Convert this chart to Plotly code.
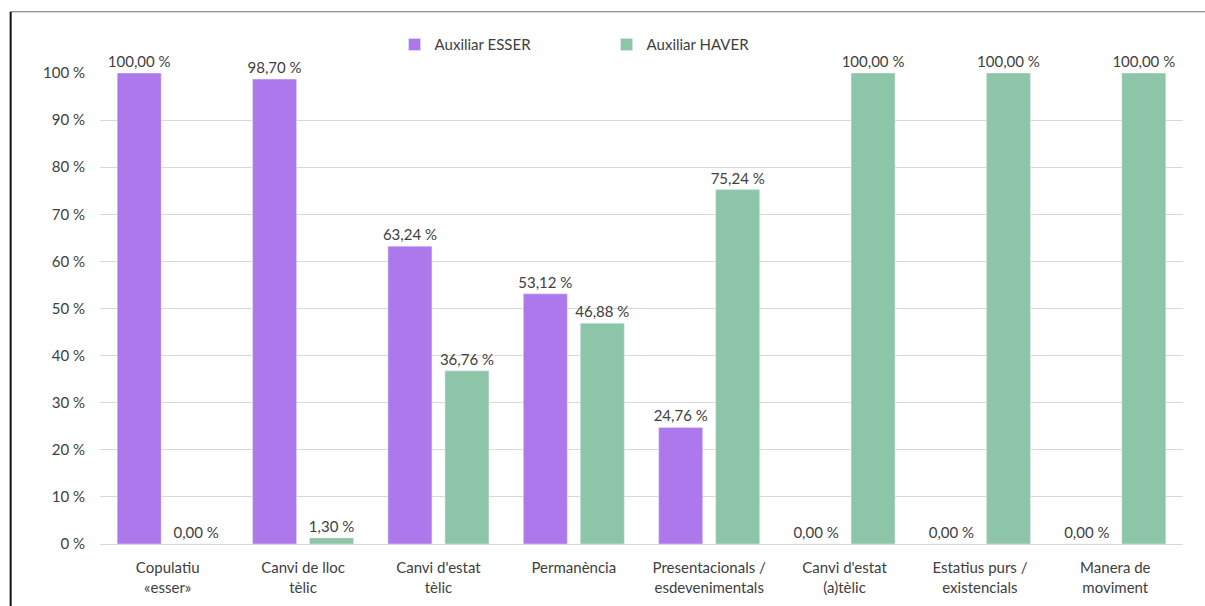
import plotly.graph_objects as go

categories = ["Copulatiu<br>«esser»", "Canvi de lloc<br>tèlic", "Canvi d'estat<br>tèlic", "Permanència",
              "Presentacionals /<br>esdevenimentals", "Canvi d'estat<br>(a)tèlic",
              "Estatius purs /<br>existencials", "Manera de<br>moviment"]
esser = [100.00, 98.70, 63.24, 53.12, 24.76, 0.00, 0.00, 0.00]
haver = [0.00, 1.30, 36.76, 46.88, 75.24, 100.00, 100.00, 100.00]
yticks = [0, 10, 20, 30, 40, 50, 60, 70, 80, 90, 100]

def fmt(v):
    return f"{v:.2f}".replace(".", ",") + " %"

FONT = "Lato, 'Open Sans', sans-serif"
TXT = "#404040"

fig = go.Figure()
fig.add_trace(go.Bar(name="Auxiliar ESSER", x=categories, y=esser, marker_color="#AC78EC",
                     text=[fmt(v) for v in esser], textposition="outside", cliponaxis=False,
                     constraintext="none", textangle=0,
                     textfont=dict(size=15, color=TXT, family=FONT)))
fig.add_trace(go.Bar(name="Auxiliar HAVER", x=categories, y=haver, marker_color="#8DC5A8",
                     text=[fmt(v) for v in haver], textposition="outside", cliponaxis=False,
                     constraintext="none", textangle=0,
                     textfont=dict(size=15, color=TXT, family=FONT)))

fig.update_layout(
    width=1205, height=606,
    margin=dict(l=100, r=22, t=73, b=62),
    paper_bgcolor="white", plot_bgcolor="white",
    barmode="group", bargap=0.158, bargroupgap=0.228,
    font=dict(family=FONT, size=14, color=TXT),
    legend=dict(orientation="h", x=0.272, xanchor="left", y=1.025, yanchor="bottom",
                font=dict(size=15, color=TXT), itemwidth=30, entrywidth=167),
    shapes=[
        dict(type="line", xref="paper", yref="paper", x0=-0.0825, x1=1.03, y0=1.13, y1=1.13,
             line=dict(color="#6e6e6e", width=1)),
        dict(type="line", xref="paper", yref="paper", x0=-0.0825, x1=-0.0825, y0=1.13, y1=-0.2,
             line=dict(color="#111111", width=2)),
    ],
)
fig.update_xaxes(showgrid=False, showline=True, linecolor="#d9d9d9", linewidth=1, ticks="",
                 ticklabelstandoff=10, automargin=False,
                 tickfont=dict(size=15, color=TXT, family=FONT))
fig.update_yaxes(range=[0, 100], tickvals=yticks, ticktext=[f"{v} %" for v in yticks],
                 showgrid=True, gridcolor="#d9d9d9", gridwidth=1, zeroline=False,
                 showline=False, ticks="", ticklabelstandoff=14, automargin=False,
                 tickfont=dict(size=15, color=TXT, family=FONT))

fig.write_html("out.html")
